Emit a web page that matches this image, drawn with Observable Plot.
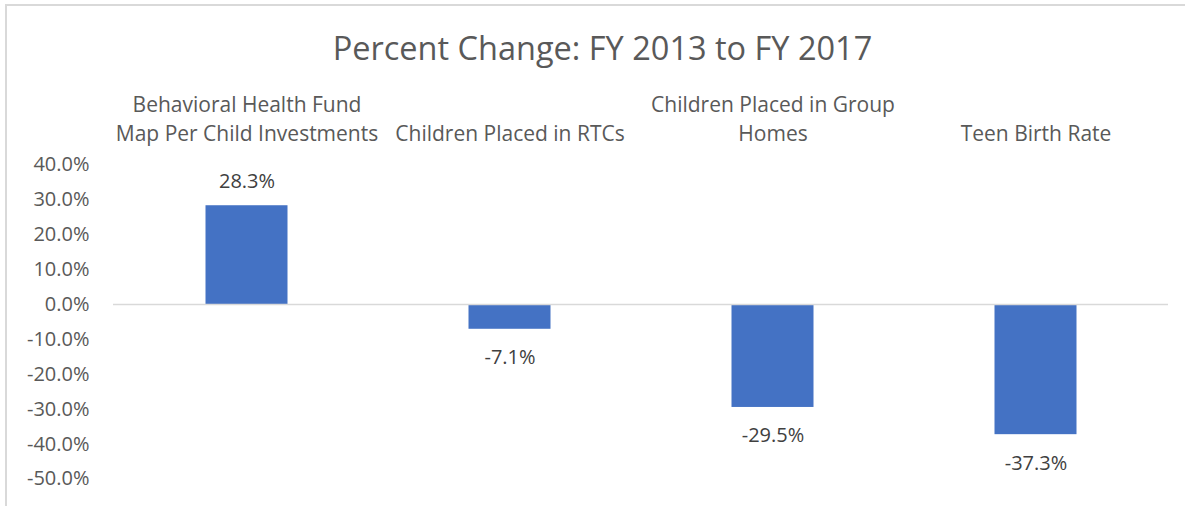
<!DOCTYPE html>
<html>
<head>
<meta charset="utf-8">
<script src="https://cdn.jsdelivr.net/npm/d3@7"></script>
<script src="https://cdn.jsdelivr.net/npm/@observablehq/plot@0.6"></script>
<style>
  html, body { margin: 0; padding: 0; background: #fff; }
  #wrap { position: relative; width: 1185px; height: 506px; overflow: hidden; }
  #border { position: absolute; left: 5px; top: 4px; width: 1300px; height: 600px;
            border-top: 2px solid #d9d9d9; border-left: 2px solid #d9d9d9; }
  #chart { position: absolute; left: 0; top: 0; }
</style>
</head>
<body>
<div id="wrap"><div id="border"></div><div id="chart"></div></div>
<script>
const title = "Percent Change: FY 2013 to FY 2017";
const categories = [
  "Behavioral Health Fund\nMap Per Child Investments",
  "Children Placed in RTCs",
  "Children Placed in Group\nHomes",
  "Teen Birth Rate"
];
const values = [28.3, -7.1, -29.5, -37.3];
const yTicks = [40, 30, 20, 10, 0, -10, -20, -30, -40, -50];

const data = categories.map((c, i) => ({category: c, value: values[i]}));
const font = "Open Sans, sans-serif";
const pct = d => d.toFixed(1) + "%";

const chart = Plot.plot({
  width: 1185,
  height: 506,
  marginLeft: 113,
  marginRight: 17,
  marginTop: 164.4,
  marginBottom: 27.5,
  style: {fontFamily: font, background: "transparent", overflow: "visible"},
  x: {domain: categories, padding: 0, axis: null},
  y: {domain: [-50, 40], axis: null},
  marks: [
    Plot.barY(data, {x: "category", y: "value", fill: "#4472C4", insetLeft: 90.5, insetRight: 90.5}),
    Plot.ruleY([0], {stroke: "#d9d9d9", strokeWidth: 1.5}),
    Plot.text(yTicks, {y: d => d, frameAnchor: "left", textAnchor: "end", dx: -24,
      text: pct, fontSize: 20, fill: "#595959"}),
    Plot.text(data.filter(d => d.value >= 0), {x: "category", y: "value", text: d => pct(d.value),
      dy: -24.5, fontSize: 20, fill: "#404040"}),
    Plot.text(data.filter(d => d.value < 0), {x: "category", y: "value", text: d => pct(d.value),
      dy: 28.5, fontSize: 20, fill: "#404040"}),
    Plot.text(categories, {x: d => d, frameAnchor: "top", dy: -24.4, lineAnchor: "bottom",
      lineHeight: 1.38, text: d => d, fontSize: 21, fill: "#595959"}),
    Plot.text([title], {frameAnchor: "top-left", dx: 489, dy: -104.4, lineAnchor: "bottom",
      textAnchor: "middle", fontSize: 32.5, fill: "#595959"})
  ]
});
document.getElementById("chart").appendChild(chart);
</script>
</body>
</html>
